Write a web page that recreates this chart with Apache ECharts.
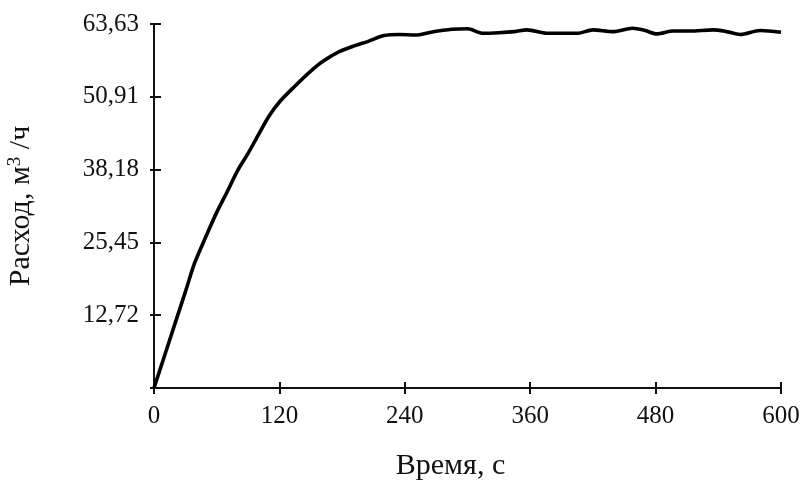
<!DOCTYPE html>
<html>
<head>
<meta charset="utf-8">
<script src="https://cdn.jsdelivr.net/npm/echarts@6/dist/echarts.min.js"></script>
<style>
  html, body { margin: 0; padding: 0; background: #fff; }
  #chart { width: 803px; height: 482px; }
</style>
</head>
<body>
<div id="chart"></div>
<script>
// Flow rate over time
const timeSec = [0, 10, 20, 30, 39, 50, 60, 70, 80, 90, 100, 110, 120, 135, 150, 160, 175, 190, 205, 220,
  235, 250, 265, 285, 300, 315, 330, 345, 357, 376, 390, 405, 420, 439, 458, 470, 481, 497, 513, 535,
  548, 561, 580, 600];
const flowRate = [0, 5.6, 11.2, 16.8, 21.9, 26.6, 30.7, 34.3, 38.0, 41.0, 44.3, 47.5, 50.0, 52.8, 55.4, 56.9, 58.6, 59.7, 60.6, 61.6,
  61.8, 61.7, 62.2, 62.7, 62.8, 62.0, 62.1, 62.3, 62.6, 62.0, 62.0, 62.0, 62.6, 62.3, 62.9, 62.5, 61.9, 62.4, 62.4, 62.6,
  62.3, 61.8, 62.5, 62.2];

const xTicks = [0, 120, 240, 360, 480, 600];
const yStep = 12.726;
const yTickLabels = ['', '12,72', '25,45', '38,18', '50,91', '63,63'];

const FONT = 'Liberation Serif';
const INK = '#111';

const points = timeSec.map((t, i) => [t, flowRate[i]]);

const chart = echarts.init(document.getElementById('chart'), null, { renderer: 'canvas' });

const xBase = {
  type: 'value', min: xTicks[0], max: xTicks[xTicks.length - 1], interval: 120,
  splitLine: { show: false }
};
const yBase = {
  type: 'value', min: 0, max: yStep * 5, interval: yStep,
  splitLine: { show: false }
};

chart.setOption({
  backgroundColor: '#fff',
  animation: false,
  grid: { left: 154, right: 22, top: 24, bottom: 94, containLabel: false, outerBoundsMode: 'none' },
  xAxis: [
    Object.assign({}, xBase, {
      name: 'Время, с',
      nameLocation: 'middle',
      nameGap: 63,
      nameTextStyle: { fontFamily: FONT, fontSize: 30, color: INK, padding: [0, 34, 0, 0] },
      axisLine: { show: true, lineStyle: { color: INK, width: 2 } },
      axisTick: { show: true, inside: false, length: 6, lineStyle: { color: INK, width: 2 } },
      axisLabel: { fontFamily: FONT, fontSize: 25, color: INK, margin: 16 }
    }),
    Object.assign({}, xBase, {
      position: 'bottom',
      axisLine: { show: false },
      axisTick: { show: true, inside: true, length: 6, lineStyle: { color: INK, width: 2 } },
      axisLabel: { show: false }
    })
  ],
  yAxis: [
    Object.assign({}, yBase, {
      name: 'Расход, м{sup|3} /ч',
      nameLocation: 'middle',
      nameGap: 117,
      nameRotate: 90,
      nameTextStyle: {
        fontFamily: FONT, fontSize: 30, color: INK,
        rich: { sup: { fontFamily: FONT, fontSize: 19, color: INK, verticalAlign: 'top', padding: [0, 0, 12, 0] } }
      },
      axisLine: { show: true, lineStyle: { color: INK, width: 2 } },
      axisTick: { show: true, inside: false, length: 4, lineStyle: { color: INK, width: 2 } },
      axisLabel: {
        fontFamily: FONT, fontSize: 25, color: INK, margin: 15,
        formatter: v => yTickLabels[Math.round(v / yStep)] || ''
      }
    }),
    Object.assign({}, yBase, {
      position: 'left',
      axisLine: { show: false },
      axisTick: { show: true, inside: true, length: 7, lineStyle: { color: INK, width: 2 } },
      axisLabel: { show: false }
    })
  ],
  series: [{
    type: 'line',
    data: points,
    xAxisIndex: 0,
    yAxisIndex: 0,
    showSymbol: false,
    smooth: 0.3,
    lineStyle: { color: '#000', width: 3.6 }
  }]
});
</script>
</body>
</html>
